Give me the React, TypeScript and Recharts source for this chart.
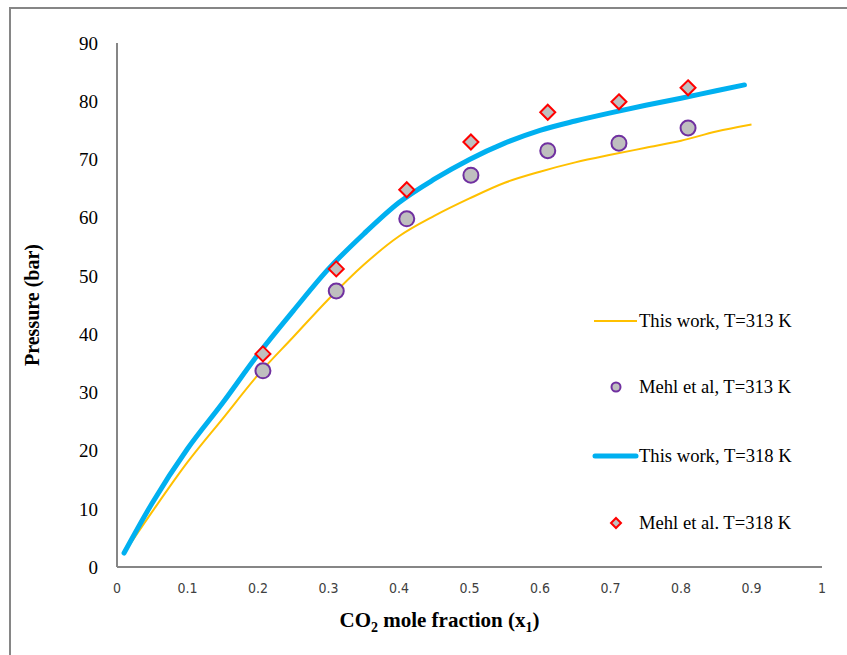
import React from 'react'
import { ComposedChart, Line, Scatter, XAxis, YAxis } from 'recharts'

// model curves
const xModel313 = [0.01, 0.05, 0.1, 0.15, 0.2, 0.25, 0.3, 0.35, 0.4, 0.45, 0.5, 0.55, 0.6, 0.65, 0.7, 0.75, 0.8, 0.85, 0.9]
const pModel313 = [2.4, 9.5, 18.0, 25.5, 33.0, 39.5, 46.0, 51.9, 56.8, 60.3, 63.3, 66.0, 67.9, 69.5, 70.8, 72.0, 73.2, 74.8, 76.0]
const xModel318 = [0.01, 0.05, 0.1, 0.15, 0.2, 0.25, 0.3, 0.35, 0.4, 0.45, 0.5, 0.55, 0.6, 0.65, 0.7, 0.75, 0.8, 0.85, 0.89]
const pModel318 = [2.4, 11.0, 20.3, 28.2, 36.5, 44.0, 51.2, 57.2, 62.6, 66.6, 70.0, 72.8, 75.0, 76.6, 78.0, 79.3, 80.5, 81.8, 82.8]

// Mehl et al. experimental points
const xExp = [0.207, 0.311, 0.411, 0.502, 0.611, 0.712, 0.81]
const pExp313 = [33.7, 47.4, 59.8, 67.3, 71.5, 72.8, 75.4]
const pExp318 = [36.6, 51.2, 64.8, 73.0, 78.1, 79.9, 82.3]

const xTicks = [0, 0.1, 0.2, 0.3, 0.4, 0.5, 0.6, 0.7, 0.8, 0.9, 1]
const yTicks = [0, 10, 20, 30, 40, 50, 60, 70, 80, 90]

const legendNames = ['This work, T=313 K', 'Mehl et al, T=313 K', 'This work, T=318 K', 'Mehl et al. T=318 K']

const model313 = xModel313.map((x, i) => ({ x, p: pModel313[i] }))
const model318 = xModel318.map((x, i) => ({ x, p: pModel318[i] }))
const exp313 = xExp.map((x, i) => ({ x, p: pExp313[i] }))
const exp318 = xExp.map((x, i) => ({ x, p: pExp318[i] }))

const serif = '"Liberation Serif", "Times New Roman", serif'
const axisGray = '#868686'

const Circle = (props: any) => {
  const { cx, cy } = props
  return <circle cx={cx} cy={cy} r={7.5} fill="#bfbfbf" stroke="#7030a0" strokeWidth={2} />
}

const Diamond = (props: any) => {
  const { cx, cy } = props
  const s = 7.5
  return (
    <path
      d={`M${cx},${cy - s} L${cx + s},${cy} L${cx},${cy + s} L${cx - s},${cy} Z`}
      fill="#bfbfbf"
      stroke="#ff0000"
      strokeWidth={2}
    />
  )
}

const YTitle = (props: any) => {
  const { viewBox } = props
  const cx = viewBox.x + 32
  const cy = viewBox.y + viewBox.height / 2
  return (
    <text x={cx} y={cy} transform={`rotate(-90 ${cx} ${cy})`} textAnchor="middle" dominantBaseline="central"
      fontFamily={serif} fontWeight="bold" fontSize={20} fill="#000">
      Pressure (bar)
    </text>
  )
}

const XTitle = (props: any) => {
  const { viewBox } = props
  const cx = viewBox.x + viewBox.width / 2 - 30
  const y = viewBox.y + 60
  return (
    <text x={cx} y={y} textAnchor="middle" fontFamily={serif} fontWeight="bold" fontSize={21} fill="#000">
      CO<tspan fontSize={14} dy={5}>2</tspan>
      <tspan dy={-5}> mole fraction (x</tspan>
      <tspan fontSize={14} dy={5}>1</tspan>
      <tspan dy={-5}>)</tspan>
    </text>
  )
}

// legend row centres, relative to the legend box
const legendRows = [10, 76, 145, 212]

const LegendBox = () => {
  const swatch = (i: number) => {
    if (i === 0) return <line x1={2} y1={10} x2={45} y2={10} stroke="#ffc000" strokeWidth={2} />
    if (i === 2) return <line x1={3} y1={10} x2={44} y2={10} stroke="#00b0f0" strokeWidth={5} strokeLinecap="round" />
    if (i === 1) return <circle cx={24} cy={10} r={4.5} fill="#bfbfbf" stroke="#7030a0" strokeWidth={2} />
    return <path d="M24,5 L29,10 L24,15 L19,10 Z" fill="#bfbfbf" stroke="#ff0000" strokeWidth={2} />
  }
  return (
    <div style={{ position: 'absolute', left: 592, top: 311, width: 240, height: 240, fontFamily: serif, fontSize: 18.6, color: '#000' }}>
      {legendNames.map((n, i) => (
        <div key={n} style={{ position: 'absolute', left: 0, top: legendRows[i] - 10, display: 'flex', alignItems: 'center', height: 20 }}>
          <svg width={47} height={20}>{swatch(i)}</svg>
          <span style={{ lineHeight: '20px', whiteSpace: 'nowrap' }}>{n}</span>
        </div>
      ))}
    </div>
  )
}

export default function App() {
  return (
    <div style={{ position: 'absolute', left: 0, top: 0, width: 847, height: 655, overflow: 'hidden', background: '#fff' }}>
      <div style={{ position: 'absolute', left: 9, top: 7, width: 900, height: 700, border: `2px solid ${axisGray}` }} />
      <ComposedChart width={847} height={655} margin={{ top: 43, right: 25, bottom: 0, left: 0 }} style={{ position: 'absolute', left: 0, top: 0 }}>
        <XAxis
          type="number"
          dataKey="x"
          domain={[0, 1]}
          ticks={xTicks}
          height={88}
          tickSize={0}
          tickMargin={16}
          stroke={axisGray}
          strokeWidth={2}
          tick={{ fontFamily: '"Liberation Sans Narrow", "DejaVu Sans Condensed", sans-serif', fontSize: 14, fill: '#404040' }}
          allowDataOverflow
          label={<XTitle />}
        />
        <YAxis
          type="number"
          dataKey="p"
          domain={[0, 90]}
          ticks={yTicks}
          width={117}
          tickSize={0}
          tickMargin={19}
          stroke={axisGray}
          strokeWidth={2}
          tick={{ fontFamily: serif, fontSize: 19, fill: '#000' }}
          label={<YTitle />}
        />
        <Line data={model313} dataKey="p" name={legendNames[0]} type="monotone" stroke="#ffc000" strokeWidth={2} dot={false} isAnimationActive={false} />
        <Line data={model318} dataKey="p" name={legendNames[2]} type="monotone" stroke="#00b0f0" strokeWidth={5} strokeLinecap="round" dot={false} isAnimationActive={false} />
        <Scatter data={exp313} dataKey="p" name={legendNames[1]} shape={<Circle />} isAnimationActive={false} />
        <Scatter data={exp318} dataKey="p" name={legendNames[3]} shape={<Diamond />} isAnimationActive={false} />
      </ComposedChart>
      <LegendBox />
    </div>
  )
}
